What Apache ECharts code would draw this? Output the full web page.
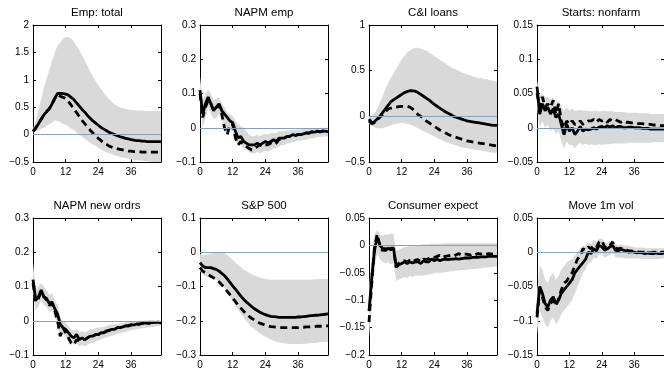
<!DOCTYPE html>
<html><head><meta charset="utf-8">
<script src="https://cdn.jsdelivr.net/npm/echarts@6/dist/echarts.min.js"></script>
<style>html,body{margin:0;padding:0;background:#fff}#c{width:664px;height:370px}</style>
</head><body><div id="c"></div>
<script>
// ---------- DATA ----------
const horizons = [0,1,2,3,4,5,6,7,8,9,10,11,12,13,14,15,16,17,18,19,20,21,22,23,24,25,26,27,28,29,30,31,32,33,34,35,36,37,38,39,40,41,42,43,44,45,46,47];
const titles = ['Emp: total','NAPM emp','C&I loans','Starts: nonfarm','NAPM new ordrs','S&P 500','Consumer expect','Move 1m vol'];
const yMins  = [-0.5,-0.1,-0.5,-0.05,-0.1,-0.3,-0.2,-0.15];
const yMaxs  = [2,0.3,1,0.15,0.3,0.1,0.05,0.05];
const ySteps = [0.5,0.1,0.5,0.05,0.1,0.1,0.05,0.05];
const xMin = 0, xMax = 47, xStep = 12;

// Emp: total
const empSolid  = [0.06,0.12,0.2,0.28,0.36,0.42,0.47,0.56,0.66,0.75, 0.75,0.75,0.74,0.72,0.68,0.64,0.58,0.52,0.46,0.41, 0.35,0.3,0.25,0.21,0.17,0.13,0.1,0.07,0.04,0.02, 0.0,-0.02,-0.04,-0.05,-0.07,-0.08,-0.09,-0.1,-0.11,-0.11, -0.12,-0.12,-0.13,-0.13,-0.13,-0.13,-0.13,-0.13];
const empDashed = [0.06,0.12,0.2,0.28,0.36,0.42,0.47,0.56,0.66,0.73, 0.7,0.68,0.66,0.6,0.54,0.47,0.4,0.33,0.26,0.2, 0.14,0.08,0.03,-0.02,-0.07,-0.11,-0.15,-0.18,-0.21,-0.23, -0.25,-0.26,-0.27,-0.28,-0.29,-0.3,-0.3,-0.31,-0.31,-0.31, -0.32,-0.32,-0.32,-0.32,-0.32,-0.32,-0.32,-0.32];
const empUpper  = [0.1,0.25,0.45,0.65,0.85,1.02,1.18,1.35,1.5,1.62, 1.68,1.75,1.78,1.78,1.75,1.7,1.62,1.54,1.45,1.35, 1.25,1.15,1.06,0.98,0.9,0.83,0.76,0.7,0.64,0.59, 0.55,0.52,0.5,0.48,0.47,0.46,0.45,0.45,0.44,0.44, 0.44,0.43,0.43,0.43,0.43,0.43,0.43,0.43];
const empLower  = [0.04,0.06,0.08,0.1,0.13,0.16,0.19,0.22,0.26,0.25, 0.23,0.2,0.18,0.15,0.11,0.08,0.04,0.0,-0.04,-0.08, -0.11,-0.15,-0.18,-0.21,-0.24,-0.27,-0.3,-0.32,-0.34,-0.36, -0.38,-0.39,-0.41,-0.42,-0.43,-0.44,-0.45,-0.46,-0.47,-0.47, -0.48,-0.48,-0.49,-0.49,-0.5,-0.5,-0.5,-0.5];

// NAPM emp
const napmEmpSolid  = [0.11,0.04,0.07,0.09,0.07,0.05,0.06,0.07,0.05,0.04, 0.03,0.02,0.015,-0.01,-0.03,-0.025,-0.04,-0.045,-0.05,-0.05, -0.05,-0.045,-0.05,-0.045,-0.04,-0.045,-0.04,-0.035,-0.04,-0.03, -0.03,-0.03,-0.025,-0.025,-0.02,-0.022,-0.02,-0.02,-0.018,-0.015, -0.016,-0.012,-0.013,-0.01,-0.012,-0.01,-0.01,-0.012];
const napmEmpDashed = [0.1,0.03,0.06,0.08,0.07,0.05,0.06,0.065,0.04,0.0, -0.02,0.01,0.01,-0.03,-0.05,-0.04,-0.05,-0.055,-0.06,-0.065, -0.06,-0.055,-0.05,-0.055,-0.05,-0.05,-0.045,-0.05,-0.045,-0.035, -0.03,-0.03,-0.025,-0.025,-0.02,-0.022,-0.02,-0.02,-0.018,-0.015, -0.016,-0.012,-0.013,-0.01,-0.012,-0.01,-0.01,-0.012];
const napmEmpUpper  = [0.15,0.08,0.1,0.11,0.1,0.08,0.085,0.09,0.07,0.06, 0.045,0.04,0.035,0.02,0.01,0.005,0.0,-0.01,-0.02,-0.025, -0.025,-0.02,-0.025,-0.02,-0.018,-0.02,-0.015,-0.015,-0.015,-0.01, -0.01,-0.01,-0.008,-0.008,-0.006,-0.006,-0.005,-0.005,-0.004,-0.003, -0.003,-0.002,-0.002,-0.001,-0.001,0.0,0.0,0.0];
const napmEmpLower  = [0.07,0.0,0.03,0.06,0.04,0.025,0.03,0.04,0.02,0.0, -0.01,-0.005,-0.01,-0.035,-0.05,-0.05,-0.06,-0.065,-0.07,-0.075, -0.075,-0.07,-0.075,-0.07,-0.068,-0.07,-0.065,-0.06,-0.06,-0.055, -0.05,-0.05,-0.046,-0.045,-0.042,-0.04,-0.038,-0.037,-0.036,-0.035, -0.033,-0.031,-0.03,-0.028,-0.027,-0.026,-0.025,-0.025];

// C&I loans
const ciSolid  = [-0.03,-0.07,-0.06,-0.03,0.0,0.04,0.08,0.12,0.16,0.18, 0.2,0.22,0.24,0.26,0.27,0.28,0.28,0.275,0.26,0.24, 0.22,0.2,0.18,0.155,0.13,0.11,0.09,0.07,0.05,0.035, 0.02,0.0,-0.01,-0.02,-0.03,-0.04,-0.05,-0.055,-0.06,-0.065, -0.07,-0.075,-0.08,-0.085,-0.09,-0.095,-0.1,-0.1];
const ciDashed = [-0.05,-0.08,-0.07,-0.04,-0.01,0.02,0.05,0.08,0.09,0.1, 0.1,0.105,0.11,0.11,0.11,0.1,0.08,0.05,0.02,0.0, -0.02,-0.05,-0.07,-0.09,-0.11,-0.13,-0.15,-0.165,-0.18,-0.195, -0.21,-0.22,-0.23,-0.24,-0.25,-0.26,-0.27,-0.275,-0.28,-0.285, -0.29,-0.295,-0.3,-0.305,-0.31,-0.315,-0.32,-0.32];
const ciUpper  = [0.0,0.01,0.03,0.08,0.15,0.22,0.3,0.36,0.42,0.47, 0.52,0.57,0.62,0.66,0.7,0.72,0.74,0.75,0.75,0.74, 0.73,0.72,0.7,0.68,0.66,0.64,0.62,0.6,0.58,0.56, 0.54,0.52,0.51,0.5,0.48,0.47,0.46,0.45,0.44,0.43, 0.42,0.42,0.41,0.41,0.4,0.39,0.39,0.38];
const ciLower  = [-0.08,-0.1,-0.12,-0.13,-0.13,-0.13,-0.12,-0.11,-0.1,-0.09, -0.08,-0.075,-0.07,-0.075,-0.08,-0.09,-0.1,-0.115,-0.13,-0.145, -0.16,-0.175,-0.19,-0.205,-0.22,-0.235,-0.25,-0.265,-0.28,-0.29, -0.3,-0.31,-0.32,-0.33,-0.34,-0.345,-0.35,-0.355,-0.36,-0.365, -0.37,-0.375,-0.38,-0.385,-0.39,-0.395,-0.4,-0.4];

// Starts: nonfarm
const startsSolid  = [0.06,0.02,0.035,0.025,0.03,0.02,0.028,0.015,0.02,0.005, -0.01,0.005,-0.005,0.0,-0.01,-0.005,0.002,-0.005,-0.002,-0.003, -0.002,0.0,-0.002,0.001,0.002,0.0,0.003,0.001,0.003,0.0, 0.002,0.002,0.0,0.0,0.001,0.001,0.0,0.0,0.0,-0.001, -0.001,-0.001,-0.002,-0.002,-0.002,-0.002,-0.002,-0.002];
const startsDashed = [0.05,0.03,0.045,0.03,0.035,0.03,0.04,0.02,0.035,0.01, 0.0,0.01,0.005,0.01,0.005,0.005,0.01,0.005,0.008,0.01, 0.01,0.012,0.008,0.012,0.01,0.012,0.008,0.012,0.01,0.012, 0.01,0.008,0.01,0.008,0.008,0.007,0.007,0.006,0.006,0.006, 0.005,0.005,0.005,0.004,0.004,0.004,0.003,0.003];
const startsUpper  = [0.07,0.045,0.05,0.045,0.045,0.04,0.045,0.035,0.04,0.03, 0.025,0.03,0.025,0.028,0.025,0.025,0.026,0.025,0.025,0.025, 0.024,0.025,0.025,0.024,0.024,0.025,0.024,0.024,0.024,0.023, 0.023,0.023,0.023,0.022,0.022,0.022,0.022,0.022,0.021,0.021, 0.021,0.021,0.02,0.02,0.02,0.02,0.02,0.02];
const startsLower  = [0.03,0.0,0.01,0.0,0.005,-0.005,0.0,-0.01,-0.005,-0.02, -0.03,-0.02,-0.025,-0.025,-0.03,-0.025,-0.022,-0.025,-0.023,-0.025, -0.024,-0.025,-0.025,-0.024,-0.025,-0.024,-0.024,-0.024,-0.023,-0.023, -0.023,-0.023,-0.023,-0.023,-0.022,-0.022,-0.022,-0.022,-0.022,-0.022, -0.022,-0.022,-0.022,-0.021,-0.021,-0.021,-0.021,-0.021];

// NAPM new ordrs
const ordersSolid  = [0.12,0.06,0.07,0.09,0.07,0.065,0.05,0.055,0.035,0.02, -0.01,-0.02,-0.025,-0.035,-0.045,-0.05,-0.04,-0.055,-0.05,-0.055, -0.05,-0.045,-0.045,-0.04,-0.04,-0.035,-0.035,-0.03,-0.028,-0.025, -0.025,-0.02,-0.02,-0.018,-0.015,-0.015,-0.012,-0.012,-0.01,-0.01, -0.008,-0.006,-0.008,-0.006,-0.005,-0.005,-0.004,-0.006];
const ordersDashed = [0.11,0.055,0.065,0.085,0.07,0.06,0.045,0.05,0.03,0.0, -0.045,-0.02,-0.035,-0.05,-0.065,-0.07,-0.055,-0.06,-0.055,-0.055, -0.05,-0.045,-0.045,-0.04,-0.04,-0.035,-0.035,-0.03,-0.028,-0.025, -0.025,-0.02,-0.02,-0.018,-0.015,-0.015,-0.012,-0.012,-0.01,-0.01, -0.008,-0.006,-0.008,-0.006,-0.005,-0.005,-0.004,-0.006];
const ordersUpper  = [0.17,0.09,0.1,0.11,0.1,0.09,0.075,0.08,0.06,0.045, 0.01,0.0,-0.005,-0.015,-0.025,-0.03,-0.022,-0.035,-0.03,-0.035, -0.03,-0.025,-0.025,-0.022,-0.02,-0.019,-0.018,-0.015,-0.012,-0.011, -0.01,-0.009,-0.008,-0.007,-0.005,-0.004,-0.002,-0.002,-0.001,0.0, 0.0,0.001,0.001,0.002,0.002,0.001,0.001,0.0];
const ordersLower  = [0.08,0.03,0.04,0.06,0.045,0.04,0.025,0.03,0.01,-0.005, -0.05,-0.04,-0.045,-0.055,-0.065,-0.07,-0.065,-0.075,-0.07,-0.075, -0.07,-0.065,-0.065,-0.06,-0.058,-0.055,-0.052,-0.049,-0.046,-0.043, -0.04,-0.038,-0.036,-0.034,-0.032,-0.03,-0.027,-0.026,-0.025,-0.023, -0.022,-0.021,-0.02,-0.019,-0.018,-0.017,-0.016,-0.016];

// S&P 500
const spSolid  = [-0.03,-0.04,-0.045,-0.045,-0.045,-0.048,-0.05,-0.055,-0.062,-0.068, -0.078,-0.088,-0.098,-0.108,-0.118,-0.128,-0.137,-0.145,-0.152,-0.159, -0.165,-0.17,-0.175,-0.179,-0.182,-0.185,-0.187,-0.188,-0.189,-0.19, -0.19,-0.19,-0.19,-0.19,-0.19,-0.19,-0.189,-0.189,-0.188,-0.187, -0.186,-0.185,-0.184,-0.184,-0.183,-0.182,-0.181,-0.18];
const spDashed = [-0.045,-0.055,-0.06,-0.065,-0.07,-0.075,-0.08,-0.087,-0.095,-0.104, -0.114,-0.124,-0.134,-0.144,-0.154,-0.163,-0.172,-0.18,-0.187,-0.193, -0.198,-0.203,-0.207,-0.21,-0.213,-0.215,-0.217,-0.218,-0.219,-0.22, -0.22,-0.22,-0.22,-0.22,-0.22,-0.22,-0.22,-0.219,-0.219,-0.218, -0.218,-0.217,-0.217,-0.216,-0.216,-0.216,-0.215,-0.215];
const spUpper  = [-0.005,-0.008,-0.008,-0.006,-0.004,-0.002,0.0,0.0,0.0,-0.002, -0.008,-0.015,-0.022,-0.03,-0.037,-0.044,-0.05,-0.055,-0.06,-0.064, -0.068,-0.071,-0.074,-0.076,-0.078,-0.079,-0.08,-0.08,-0.08,-0.08, -0.08,-0.08,-0.08,-0.08,-0.08,-0.08,-0.08,-0.08,-0.08,-0.08, -0.08,-0.08,-0.079,-0.079,-0.078,-0.078,-0.078,-0.078];
const spLower  = [-0.055,-0.065,-0.07,-0.073,-0.076,-0.078,-0.08,-0.087,-0.095,-0.105, -0.117,-0.13,-0.143,-0.156,-0.168,-0.18,-0.191,-0.201,-0.21,-0.218, -0.225,-0.231,-0.237,-0.242,-0.247,-0.251,-0.255,-0.258,-0.261,-0.263, -0.265,-0.266,-0.267,-0.268,-0.268,-0.268,-0.268,-0.268,-0.267,-0.267, -0.266,-0.265,-0.265,-0.264,-0.263,-0.262,-0.262,-0.261];

// Consumer expect
const consSolid  = [-0.12,-0.06,-0.01,0.015,0.0,-0.005,-0.01,-0.005,-0.008,-0.005, -0.04,-0.035,-0.033,-0.03,-0.033,-0.03,-0.032,-0.03,-0.03,-0.033, -0.028,-0.03,-0.03,-0.025,-0.028,-0.025,-0.028,-0.026,-0.025,-0.026, -0.025,-0.025,-0.024,-0.025,-0.024,-0.023,-0.023,-0.023,-0.022,-0.022, -0.022,-0.021,-0.021,-0.021,-0.02,-0.02,-0.02,-0.02];
const consDashed = [-0.14,-0.07,-0.005,0.02,0.0,-0.01,-0.005,-0.01,-0.005,-0.005, -0.04,-0.032,-0.03,-0.028,-0.03,-0.027,-0.03,-0.027,-0.026,-0.03, -0.025,-0.026,-0.024,-0.02,-0.022,-0.02,-0.018,-0.022,-0.02,-0.019, -0.018,-0.02,-0.017,-0.015,-0.018,-0.016,-0.016,-0.018,-0.015,-0.017, -0.015,-0.016,-0.014,-0.016,-0.015,-0.016,-0.015,-0.016];
const consUpper  = [-0.08,-0.02,0.02,0.028,0.02,0.018,0.02,0.02,0.022,0.02, -0.01,-0.008,-0.005,-0.003,-0.003,0.0,-0.002,0.0,0.0,0.001, 0.002,0.002,0.002,0.003,0.003,0.003,0.003,0.004,0.004,0.004, 0.004,0.004,0.004,0.004,0.004,0.004,0.004,0.004,0.004,0.004, 0.004,0.004,0.004,0.004,0.004,0.004,0.004,0.004];
const consLower  = [-0.17,-0.1,-0.04,-0.015,-0.025,-0.03,-0.033,-0.03,-0.035,-0.032, -0.065,-0.062,-0.06,-0.058,-0.06,-0.055,-0.058,-0.055,-0.055,-0.055, -0.055,-0.054,-0.053,-0.052,-0.051,-0.05,-0.05,-0.05,-0.049,-0.048, -0.047,-0.047,-0.046,-0.046,-0.045,-0.045,-0.044,-0.044,-0.043,-0.043, -0.042,-0.042,-0.041,-0.041,-0.04,-0.04,-0.039,-0.038];

// Move 1m vol
const moveSolid  = [-0.09,-0.05,-0.06,-0.075,-0.08,-0.07,-0.065,-0.075,-0.07,-0.06, -0.055,-0.05,-0.045,-0.04,-0.03,-0.025,-0.02,-0.015,-0.01,0.0, -0.002,0.005,0.002,0.01,0.008,0.003,0.005,0.008,0.01,0.003, 0.002,0.004,0.003,0.002,0.0,0.001,0.0,-0.001,0.0,-0.001, -0.002,-0.001,-0.002,-0.002,-0.001,-0.002,-0.002,-0.001];
const moveDashed = [-0.095,-0.055,-0.065,-0.08,-0.085,-0.075,-0.07,-0.078,-0.068,-0.055, -0.045,-0.042,-0.035,-0.03,-0.02,-0.01,-0.005,0.005,0.003,0.008, 0.005,0.01,0.007,0.015,0.017,0.008,0.006,0.01,0.015,0.006, 0.005,0.006,0.004,0.004,0.002,0.002,0.001,0.001,0.0,0.0, 0.0,0.0,-0.001,0.0,0.0,-0.001,0.0,0.0];
const moveUpper  = [-0.06,-0.02,-0.025,-0.04,-0.045,-0.035,-0.03,-0.04,-0.035,-0.025, -0.02,-0.015,-0.012,-0.01,-0.005,0.0,0.005,0.01,0.01,0.015, 0.012,0.018,0.015,0.02,0.02,0.015,0.014,0.016,0.018,0.012, 0.011,0.011,0.01,0.01,0.009,0.008,0.007,0.007,0.007,0.007, 0.006,0.006,0.006,0.006,0.006,0.006,0.006,0.006];
const moveLower  = [-0.12,-0.085,-0.095,-0.105,-0.11,-0.1,-0.095,-0.105,-0.1,-0.09, -0.085,-0.08,-0.075,-0.07,-0.06,-0.05,-0.04,-0.03,-0.025,-0.015, -0.015,-0.008,-0.01,-0.003,-0.003,-0.008,-0.006,-0.004,-0.002,-0.007, -0.008,-0.008,-0.008,-0.009,-0.009,-0.009,-0.009,-0.009,-0.009,-0.01, -0.01,-0.01,-0.01,-0.01,-0.01,-0.01,-0.009,-0.009];

const solids  = [empSolid, napmEmpSolid, ciSolid, startsSolid, ordersSolid, spSolid, consSolid, moveSolid];
const dashes  = [empDashed, napmEmpDashed, ciDashed, startsDashed, ordersDashed, spDashed, consDashed, moveDashed];
const uppers  = [empUpper, napmEmpUpper, ciUpper, startsUpper, ordersUpper, spUpper, consUpper, moveUpper];
const lowers  = [empLower, napmEmpLower, ciLower, startsLower, ordersLower, spLower, consLower, moveLower];

// ---------- LAYOUT / STYLE ----------
const colLefts = [33, 200, 369, 537];
const rowTops = [25, 218];
const plotW = 128, plotH = 137;
const titleTops = [7, 200];
const FONT = '"Liberation Sans", Arial, Helvetica, sans-serif';
const BAND = '#d9d9d9', ZERO = '#86a0c2';

function fmt(v) {
  const r = Math.round(v * 1000) / 1000;
  return r < 0 ? '\u2212' + String(-r) : String(r === 0 ? 0 : r);
}
const pair = (xs, ys) => xs.map((x, k) => [x, ys[k]]);

function bandRenderer(i) {
  return function (params, api) {
    const up = horizons.map((h, k) => api.coord([h, uppers[i][k]]));
    const lo = horizons.map((h, k) => api.coord([h, lowers[i][k]])).reverse();
    return {
      type: 'polygon',
      shape: { points: up.concat(lo) },
      style: { fill: BAND, stroke: null },
      clipPath: { type: 'rect', shape: { x: params.coordSys.x, y: params.coordSys.y, width: params.coordSys.width, height: params.coordSys.height } }
    };
  };
}

const grids = [], xAxes = [], yAxes = [], series = [], title = [];
for (let i = 0; i < 8; i++) {
  const r = Math.floor(i / 4), c = i % 4;
  grids.push({ left: colLefts[c], top: rowTops[r], width: plotW, height: plotH, containLabel: false });
  title.push({
    text: titles[i], left: colLefts[c] + plotW / 2, top: titleTops[r], textAlign: 'center', padding: 0,
    textStyle: { fontFamily: FONT, fontSize: 11.5, fontWeight: 'normal', color: '#000' }
  });
  const axLine = { show: true, onZero: false, lineStyle: { color: '#000', width: 1 } };
  const tick = { show: true, inside: true, length: 3, lineStyle: { color: '#000', width: 1 } };
  xAxes.push({
    gridIndex: i, type: 'value', position: 'bottom', min: xMin, max: xMax, interval: xStep,
    axisLine: axLine, axisTick: tick, splitLine: { show: false },
    axisLabel: { show: true, showMaxLabel: false, margin: 5, fontFamily: FONT, fontSize: 10, color: '#000', formatter: fmt }
  });
  xAxes.push({
    gridIndex: i, type: 'value', position: 'top', min: xMin, max: xMax, interval: xStep,
    axisLine: axLine, axisTick: tick, splitLine: { show: false }, axisLabel: { show: false }
  });
  yAxes.push({
    gridIndex: i, type: 'value', position: 'left', min: yMins[i], max: yMaxs[i], interval: ySteps[i],
    axisLine: axLine, axisTick: tick, splitLine: { show: false },
    axisLabel: { show: true, margin: 4, fontFamily: FONT, fontSize: 10, color: '#000', formatter: fmt }
  });
  yAxes.push({
    gridIndex: i, type: 'value', position: 'right', min: yMins[i], max: yMaxs[i], interval: ySteps[i],
    axisLine: axLine, axisTick: tick, splitLine: { show: false }, axisLabel: { show: false }
  });
  const xi = 2 * i, yi = 2 * i;
  series.push({
    type: 'custom', xAxisIndex: xi, yAxisIndex: yi, data: [[horizons[0], uppers[i][0]]],
    renderItem: bandRenderer(i), silent: true, z: 1,
    markLine: {
      silent: true, symbol: 'none', label: { show: false }, animation: false,
      lineStyle: { color: ZERO, width: 1, type: 'solid' }, data: [{ yAxis: 0 }]
    }
  });
  series.push({
    type: 'line', xAxisIndex: xi, yAxisIndex: yi, data: pair(horizons, dashes[i]),
    symbol: 'none', silent: true, z: 3,
    lineStyle: { color: '#000', width: 2.8, type: [7, 4.5] }
  });
  series.push({
    type: 'line', xAxisIndex: xi, yAxisIndex: yi, data: pair(horizons, solids[i]),
    symbol: 'none', silent: true, z: 4,
    lineStyle: { color: '#000', width: 2.8, type: 'solid' }
  });
}

const chart = echarts.init(document.getElementById('c'), null, { renderer: 'canvas' });
chart.setOption({
  animation: false, backgroundColor: '#fff',
  title: title, grid: grids, xAxis: xAxes, yAxis: yAxes, series: series
});
</script></body></html>
